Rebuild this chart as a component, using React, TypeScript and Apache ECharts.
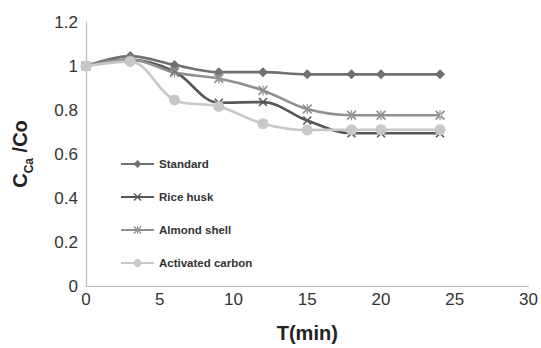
import React, { useEffect, useRef } from "react";
import * as echarts from "echarts";

const times = [0, 3, 6, 9, 12, 15, 18, 20, 24];
const standard = [1.0, 1.045, 1.005, 0.972, 0.972, 0.962, 0.962, 0.962, 0.962];
const riceHusk = [1.0, 1.028, 0.975, 0.833, 0.836, 0.752, 0.694, 0.694, 0.694];
const almondShell = [1.0, 1.03, 0.97, 0.943, 0.889, 0.804, 0.776, 0.776, 0.776];
const activatedCarbon = [1.0, 1.02, 0.845, 0.816, 0.738, 0.709, 0.71, 0.71, 0.71];
const seriesNames = ["Standard", "Rice husk", "Almond shell", "Activated carbon"];
const xTicks = { min: 0, max: 30, interval: 5 };
const yTicks = { min: 0, max: 1.2, interval: 0.2 };

const X_SYMBOL = "path://M0,1.2L1.2,0L5,3.8L8.8,0L10,1.2L6.2,5L10,8.8L8.8,10L5,6.2L1.2,10L0,8.8L3.8,5Z";
const STAR_SYMBOL =
  "path://M0,1.2L1.2,0L5,3.8L8.8,0L10,1.2L6.2,5L10,8.8L8.8,10L5,6.2L1.2,10L0,8.8L3.8,5Z M4.4,0L4.4,10L5.6,10L5.6,0Z";

const pair = (vals: number[]) => times.map((t, i) => [t, vals[i]]);

export default function App() {
  const ref = useRef<HTMLDivElement>(null);
  useEffect(() => {
    if (!ref.current) return;
    const chart = echarts.init(ref.current, null, { renderer: "svg" });
    const font = "'Liberation Sans', Arial, sans-serif";
    const mk = (name: string, vals: number[], color: string, symbol: string, size: number) => ({
      name,
      type: "line",
      data: pair(vals),
      smooth: 0.35,
      symbol,
      symbolSize: size,
      lineStyle: { color, width: 2.6 },
      itemStyle: { color },
    });
    chart.setOption({
      animation: false,
      textStyle: { fontFamily: font },
      grid: { left: 86, right: 11, top: 22, bottom: 53 },
      legend: {
        orient: "vertical",
        left: 115,
        top: 153,
        itemGap: 21,
        itemWidth: 33,
        itemHeight: 10,
        data: seriesNames,
        textStyle: { fontFamily: font, fontSize: 11.5, fontWeight: "bold", color: "#333" },
      },
      xAxis: {
        type: "value",
        ...xTicks,
        name: "T(min)",
        nameLocation: "middle",
        nameGap: 37,
        nameTextStyle: { fontFamily: font, fontSize: 20, fontWeight: "bold", color: "#222" },
        axisLine: { show: true, lineStyle: { color: "#bdbdbd", width: 1.2 } },
        axisTick: { show: false },
        splitLine: { show: false },
        axisLabel: { fontFamily: font, fontSize: 17, color: "#333", margin: 5 },
      },
      yAxis: {
        type: "value",
        ...yTicks,
        name: "{c|C}{s|Ca}{c| /Co}",
        nameLocation: "middle",
        nameGap: 54,
        nameTextStyle: {
          rich: {
            c: { fontFamily: font, fontSize: 20, fontWeight: "bold", color: "#222", lineHeight: 22, verticalAlign: "top" },
            s: { fontFamily: font, fontSize: 12, fontWeight: "bold", color: "#222", lineHeight: 13, padding: [13, 0, 0, 0], verticalAlign: "top" },
          },
        },
        axisLine: { show: true, lineStyle: { color: "#bdbdbd", width: 1.2 } },
        axisTick: { show: false },
        splitLine: { show: false },
        axisLabel: { fontFamily: font, fontSize: 17, color: "#333", margin: 8 },
      },
      series: [
        mk(seriesNames[0], standard, "#707070", "diamond", 10),
        mk(seriesNames[1], riceHusk, "#575757", X_SYMBOL, 9),
        mk(seriesNames[2], almondShell, "#909090", STAR_SYMBOL, 10),
        mk(seriesNames[3], activatedCarbon, "#c8c8c8", "circle", 11),
      ],
    });
    return () => chart.dispose();
  }, []);
  return <div ref={ref} style={{ position: "absolute", left: 0, top: 0, width: 541, height: 348 }} />;
}
